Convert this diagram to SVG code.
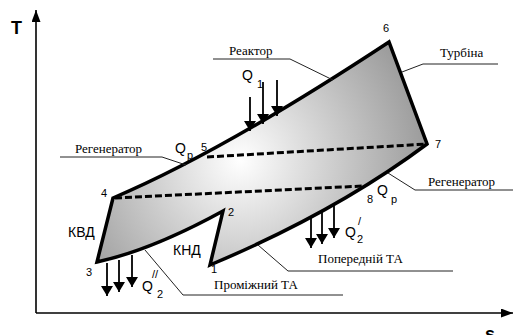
<svg xmlns="http://www.w3.org/2000/svg" width="513" height="335" viewBox="0 0 513 335">
<defs>
<radialGradient id="g" gradientUnits="userSpaceOnUse" cx="240" cy="160" r="190">
<stop offset="0" stop-color="#ffffff"/>
<stop offset="1" stop-color="#9a9a9a"/>
</radialGradient>
<marker id="ah" viewBox="0 0 10 12" refX="10" refY="6" markerWidth="10" markerHeight="12" markerUnits="userSpaceOnUse" orient="auto">
<path d="M0,0 L10,6 L0,12 Z" fill="#000"/>
</marker>
<marker id="axh" viewBox="0 0 12 9" refX="12" refY="4.5" markerWidth="12" markerHeight="9" markerUnits="userSpaceOnUse" orient="auto">
<path d="M0,0 L12,4.5 L0,9 Z" fill="#000"/>
</marker>
</defs>
<style>
.ax{stroke:#000;stroke-width:1.6;fill:none}
.cyc{stroke:#000;stroke-width:3.5;fill:url(#g);stroke-linejoin:miter}
.dash{stroke:#000;stroke-width:3;stroke-dasharray:7 3;fill:none}
.lead{stroke:#222;stroke-width:1;fill:none}
.arr{stroke:#000;stroke-width:1.8;fill:none;marker-end:url(#ah)}
.ser{font-family:"Liberation Serif",serif;font-size:13px;fill:#000}
.san{font-family:"Liberation Sans",Arial,sans-serif;fill:#000}
.num{font-size:11px}
.q{font-size:14px}
.sub{font-size:11px}
.big{font-size:14px}
.axl{font-size:18px;font-weight:bold}
</style>
<g id="axes">
<line class="ax" x1="36" y1="313" x2="36" y2="10" marker-end="url(#axh)"/>
<line class="ax" x1="36" y1="313" x2="513" y2="313" marker-end="url(#axh)"/>
<text class="san axl" x="11" y="34">T</text>
<text class="san axl" x="485" y="340">s</text>
</g>
<g id="cycle">
<path class="cyc" d="M113,198 Q222,152 389,42 L427,144 Q336,212 210,265 L223,211 Q152,250 97,262 Z"/>
</g>
<g id="connectors">
<line class="dash" x1="115" y1="198" x2="363" y2="186"/>
<line class="dash" x1="207" y1="157" x2="427" y2="144"/>
<path class="lead" d="M213,59 L290,59 L333,80"/>
<path class="lead" d="M498,64 L423,64 L402,72"/>
<path class="lead" d="M60,157 L162,157 L186,165"/>
<path class="lead" d="M513,190 L415,190 L388,173"/>
<path class="lead" d="M453,271 L288,271 L258,245"/>
<path class="lead" d="M343,295 L183,295 L145,250"/>
<line class="arr" x1="250" y1="97" x2="250" y2="131"/>
<line class="arr" x1="263" y1="82" x2="263" y2="124"/>
<line class="arr" x1="277" y1="80" x2="277" y2="116"/>
<line class="arr" x1="311" y1="216" x2="311" y2="248"/>
<line class="arr" x1="322" y1="211" x2="322" y2="244"/>
<line class="arr" x1="334" y1="206" x2="334" y2="238"/>
<line class="arr" x1="107" y1="263" x2="107" y2="296"/>
<line class="arr" x1="119" y1="260" x2="119" y2="292"/>
<line class="arr" x1="132" y1="255" x2="132" y2="287"/>
</g>
<g id="labels">
<text class="ser" x="229" y="55">Реактор</text>
<text class="ser" x="440" y="57">Турбіна</text>
<text class="ser" x="75" y="153">Регенератор</text>
<text class="ser" x="428" y="186">Регенератор</text>
<text class="ser" x="318" y="263">Попередній ТА</text>
<text class="ser" x="214" y="289">Проміжний ТА</text>
<text class="san num" x="383" y="32">6</text>
<text class="san num" x="435" y="148">7</text>
<text class="san num" x="201" y="151">5</text>
<text class="san num" x="101" y="197">4</text>
<text class="san num" x="86" y="276">3</text>
<text class="san num" x="228" y="216">2</text>
<text class="san num" x="211" y="273">1</text>
<text class="san num" x="367" y="203">8</text>
<text class="san q" x="242" y="80">Q</text>
<text class="san sub" x="257" y="88">1</text>
<text class="san q" x="175" y="153">Q</text>
<text class="san sub" x="187" y="159">p</text>
<text class="san q" x="377" y="195">Q</text>
<text class="san sub" x="391" y="203">p</text>
<text class="san q" x="345" y="237">Q</text>
<text class="san sub" x="358" y="225">/</text>
<text class="san sub" x="357" y="243">2</text>
<text class="san q" x="142" y="291">Q</text>
<text class="san sub" x="152" y="278">//</text>
<text class="san sub" x="157" y="298">2</text>
<text class="san big" x="68" y="237">КВД</text>
<text class="san big" x="173" y="255">КНД</text>
</g>
</svg>
